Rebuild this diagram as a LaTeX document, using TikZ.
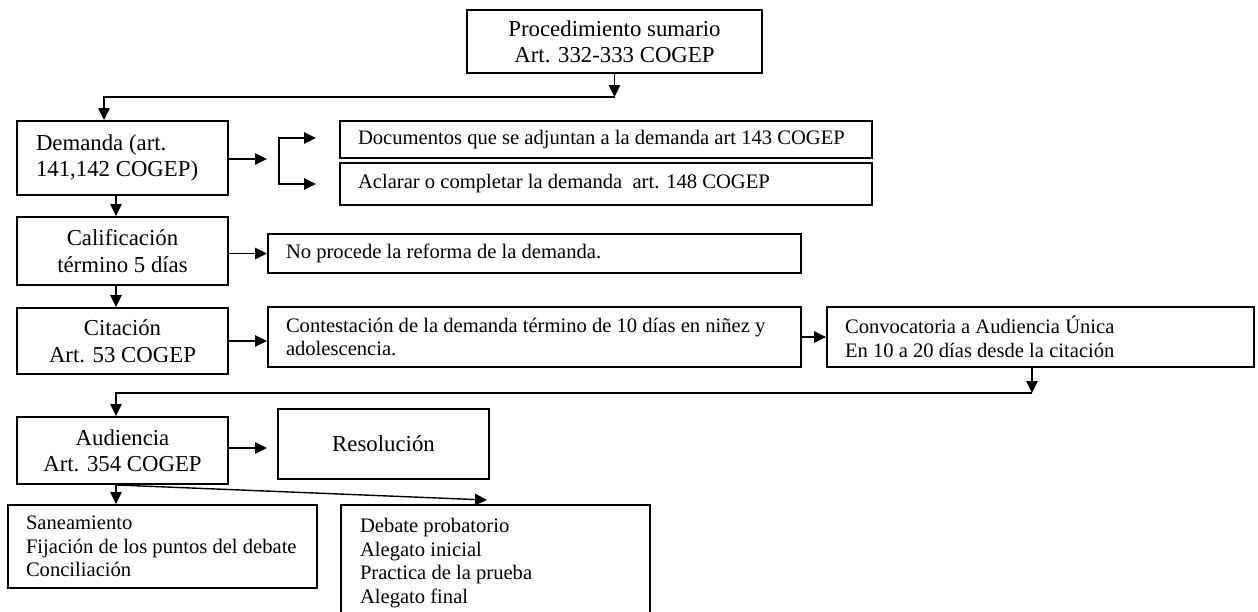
\documentclass[tikz,border=0pt]{standalone}
\usepackage{fontspec}
\setmainfont{Liberation Serif}
\usetikzlibrary{arrows.meta}
\newcommand{\natsp}{\spaceskip=0pt\xspaceskip=0pt\relax}
\tikzset{
  box/.style={draw, line width=1.9pt, inner sep=0pt},
  bigtxt/.style={font=\fontsize{22.8}{26.5}\selectfont},
  smalltxt/.style={font=\fontsize{20.6}{23.5}\selectfont},
  cbox/.style={box, align=center},
  lbox/.style={box, align=left},
  tip/.tip={Triangle[length=12pt,width=11.5pt]},
  conn/.style={line width=1.4pt, -tip},
  connboth/.style={line width=1.4pt, tip-tip},
}
\begin{document}
\begin{tikzpicture}[x=1pt, y=-1pt]
\useasboundingbox (0,0) rectangle (1258,611);
\clip (0,0) rectangle (1258,611);

% boxes
\node[cbox, bigtxt, minimum width=295pt, minimum height=63pt] (top) at (614.5,41.5)
  {Procedimiento sumario\\Art. 332-333 COGEP};
\node[lbox, bigtxt, minimum height=74pt, text width=173pt, inner xsep=19pt] (dem) at (122.5,158)
  {\natsp Demanda (art.\\141,142 COGEP)};
\node[lbox, smalltxt, minimum height=37pt, text width=496pt, inner xsep=18pt] (doc) at (606,139.5)
  {\natsp Documentos que se adjuntan a la demanda art 143 COGEP};
\node[lbox, smalltxt, minimum height=42pt, text width=496pt, inner xsep=18pt] (acl) at (606,184)
  {\natsp Aclarar o completar la demanda~ art. 148 COGEP};
\node[cbox, bigtxt, minimum width=211pt, minimum height=68pt] (cal) at (122.5,251)
  {Calificación\\término 5 días};
\node[lbox, smalltxt, minimum height=39pt, text width=497pt, inner xsep=18pt] (nop) at (534.5,253.5)
  {\natsp No procede la reforma de la demanda.};
\node[cbox, bigtxt, minimum width=211pt, minimum height=66pt] (cit) at (122.5,341)
  {Citación\\Art. 53 COGEP};
\node[lbox, smalltxt, minimum height=60pt, text width=497pt, inner xsep=18pt] (cont) at (534.5,337)
  {\natsp Contestación de la demanda término de 10 días en niñez y\\adolescencia.};
\node[lbox, smalltxt, minimum height=60pt, text width=391pt, inner xsep=18pt] (conv) at (1040.5,337)
  {\natsp Convocatoria a Audiencia Única\\En 10 a 20 días desde la citación};
\node[cbox, bigtxt, minimum width=211pt, minimum height=67pt] (aud) at (122.5,450.5)
  {Audiencia\\Art. 354 COGEP};
\node[cbox, bigtxt, minimum width=211pt, minimum height=70pt] (res) at (383.5,444)
  {Resolución};
\node[lbox, smalltxt, minimum height=83pt, text width=273pt, inner xsep=18pt] (san) at (162.5,546.5)
  {\natsp Saneamiento\\Fijación de los puntos del debate\\Conciliación};
\node[lbox, smalltxt, minimum height=116pt, text width=271pt, inner xsep=19pt] (deb) at (495.5,563)
  {\natsp Debate probatorio\\Alegato inicial\\Practica de la prueba\\Alegato final};

% helper coordinates
\coordinate (v) at (116,0);
\coordinate (j1) at (614.5,97);
\coordinate (j2) at (104,97);
\coordinate (d1) at (267,159);
\coordinate (b1) at (279,138);
\coordinate (b2) at (279,184);
\coordinate (b1e) at (316,138);
\coordinate (b2e) at (316,184);
\coordinate (k1) at (1032,393);
\coordinate (k2) at (116,393);
\coordinate (a1) at (267,448);
\coordinate (a2) at (487,500);

% connectors
\draw[conn] (top.south) -- (j1);
\draw[conn] (j1) -- (j2) -- (j2 |- dem.north);
\draw[conn] (dem.east |- d1) -- (d1);
\draw[connboth] (b1e) -- (b1) -- (b2) -- (b2e);
\draw[conn] (dem.south -| v) -- (cal.north -| v);
\draw[conn] (nop.west -| cal.east) -- (nop.west);
\draw[conn] (cal.south -| v) -- (cit.north -| v);
\draw[conn] (cit.east) -- (cit.east -| cont.west);
\draw[conn] (cont.east) -- (conv.west);
\draw[conn] (conv.south -| k1) -- (k1);
\draw[conn] (k1) -- (k2) -- (aud.north -| k2);
\draw[conn] (aud.east |- a1) -- (a1);
\draw[conn] (aud.south -| v) -- (san.north -| v);
\draw[conn] (aud.south -| v) -- (a2);
\end{tikzpicture}
\end{document}
